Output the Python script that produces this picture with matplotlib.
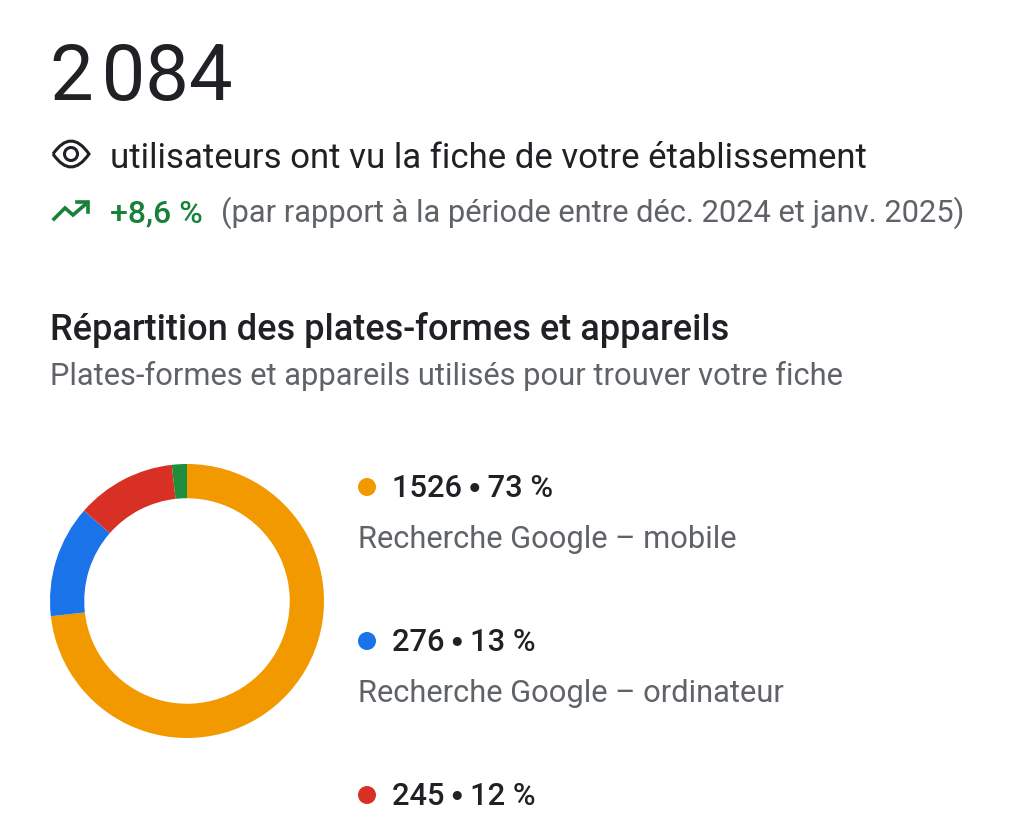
import matplotlib
matplotlib.use('Agg')
import matplotlib.pyplot as plt
from matplotlib.patches import Circle, PathPatch
from matplotlib.path import Path

plt.rcParams['font.family'] = ['Roboto', 'DejaVu Sans']

# platform values (the last one is what is left of the total)
total = '2\u200a084'
values = [1526, 276, 245, 37]
percents = ['73 %', '13 %', '12 %']
platforms = ['Recherche Google \u2013 mobile', 'Recherche Google \u2013 ordinateur']
colors = ['#f29900', '#1a73e8', '#d93025', '#1e8e3e']

DARK = '#202124'
GREY = '#5f6368'
GREEN = '#188038'

fig = plt.figure(figsize=(10.24, 8.29), dpi=100)

# background axes in pixels, y going down, for all the texts
bg = fig.add_axes([0, 0, 1, 1])
bg.set_xlim(0, 1024)
bg.set_ylim(829, 0)
bg.axis('off')

bg.text(50, 100, total, fontsize=56, color=DARK, va='baseline')
bg.text(110, 168, 'utilisateurs ont vu la fiche de votre \u00e9tablissement',
        fontsize=25, color=DARK, va='baseline')
bg.text(110, 222, '+8,6 %', fontsize=23, color=GREEN, va='baseline', fontweight='medium')
bg.text(221, 222, '(par rapport \u00e0 la p\u00e9riode entre d\u00e9c. 2024 et janv. 2025)',
        fontsize=22.2, color=GREY, va='baseline')
bg.text(50, 340, 'R\u00e9partition des plates-formes et appareils', fontsize=26,
        color=DARK, va='baseline', fontweight='medium')
bg.text(50, 385, 'Plates-formes et appareils utilis\u00e9s pour trouver votre fiche',
        fontsize=22.2, color=GREY, va='baseline')

# eye icon
eye = Path([(53, 155), (71, 129), (89, 155), (71, 181), (53, 155)],
           [Path.MOVETO, Path.CURVE3, Path.CURVE3, Path.CURVE3, Path.CURVE3])
bg.add_patch(PathPatch(eye, fill=False, ec=DARK, lw=2.2))
bg.add_patch(Circle((71, 155), 6.5, fill=False, ec=DARK, lw=2.2))

# trending arrow icon
bg.plot([54, 65, 73, 87], [220, 209, 216, 204], color=GREEN, lw=2.6, solid_joinstyle='miter')
bg.plot([77, 88, 88], [203, 203, 213], color=GREEN, lw=2.6, solid_joinstyle='miter')

# legend
rows = [487, 641, 795]
for i, y in enumerate(rows):
    bg.add_patch(Circle((367, y + 1), 9, fc=colors[i], ec='none'))
    bg.text(392, y + 10, f'{values[i]}\u200a\u2219\u200a{percents[i]}', fontsize=22.2, color=DARK,
            va='baseline', fontweight='medium')
    if i < len(platforms):
        bg.text(358, y + 61, platforms[i], fontsize=22.2, color=GREY, va='baseline')

# donut, clockwise from the top
ax = fig.add_axes([50 / 1024, 1 - 739 / 829, 274 / 1024, 274 / 829])
ax.pie(values, colors=colors, startangle=90, counterclock=False, radius=1,
       wedgeprops={'width': 0.25, 'linewidth': 0})
ax.set_xlim(-1, 1)
ax.set_ylim(-1, 1)

fig.savefig('out.png', dpi=100)
